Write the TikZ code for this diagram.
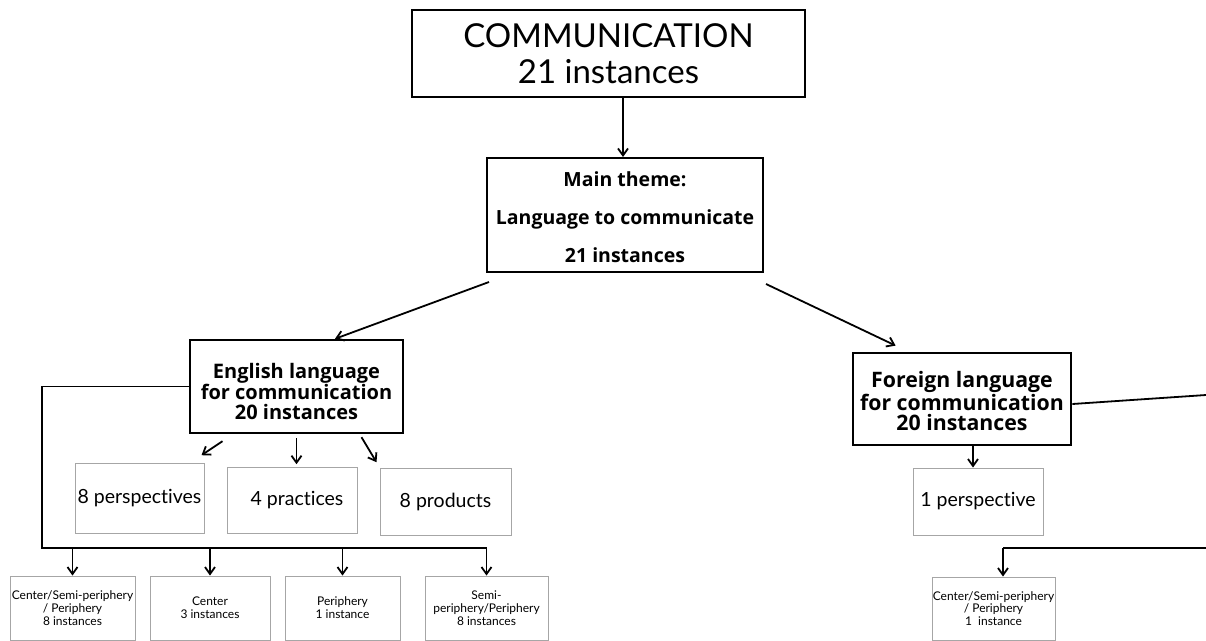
\documentclass[tikz,border=0pt]{standalone}
\usepackage{fontspec}
\setmainfont{Lato}[Ligatures=NoCommon]
\newfontfamily\boldfam{Open Sans}
\usetikzlibrary{arrows.meta}
\tikzset{
  thickbox/.style={draw, line width=2pt, align=center, inner sep=0pt},
  thinbox/.style={draw=gray!70, line width=0.9pt, align=center, inner sep=0pt},
  link/.style={line width=1.8pt},
  arr/.style={link, -{Straight Barb[length=7pt,width=10pt,line width=1.8pt]}},
  bigtext/.style={font=\fontsize{33}{36}\selectfont},
  themetext/.style={font=\boldfam\bfseries\fontsize{19.5}{38}\selectfont},
  langtext/.style={font=\boldfam\bfseries\fontsize{20}{20}\selectfont},
  rowtext/.style={font=\fontsize{19.5}{20}\selectfont},
  smalltext/.style={font=\fontsize{12}{12.8}\selectfont}
}
\begin{document}
\begin{tikzpicture}[x=1pt,y=-1pt]
                \useasboundingbox (0,0) rectangle (1206,640);

                \node[thickbox, bigtext, minimum width=393, minimum height=87] (comm) at (608.5,53.5)
                    {COMMUNICATION\\21 instances};
                \node[thickbox, themetext, minimum width=276, minimum height=114] (theme) at (625,215)
                    {\rule{0pt}{20pt}Main theme:\\Language to communicate\\21 instances};

                \node[thickbox, langtext, line width=2.4pt, minimum width=213, minimum height=93] (eng) at (296.5,386.5)
                    {\rule{0pt}{26pt}English language\\for communication\\20 instances};
                \node[thickbox, langtext, font={\boldfam\bfseries\fontsize{21.3}{20}\selectfont}, line width=2.8pt, minimum width=218, minimum height=92] (for) at (962,399)
                    {\rule{0pt}{20pt}Foreign language\\for communication\\20 instances};

                \node[thinbox, rowtext, minimum width=129, minimum height=70] (persp) at (139.5,498)
                    {8 perspectives};
                \node[thinbox, rowtext, minimum width=130, minimum height=66] (pract) at (292,500)
                    {\ \ 4 practices};
                \node[thinbox, rowtext, minimum width=131, minimum height=67] (prod) at (445.5,501.5)
                    {8 products};
                \node[thinbox, rowtext, minimum width=130, minimum height=67] (onepersp) at (978,501.5)
                    {1 perspective};

                \node[thinbox, smalltext, minimum width=125, minimum height=64] (csp) at (72.5,608)
                    {Center/Semi-periphery\\/ Periphery\\8 instances};
                \node[thinbox, smalltext, minimum width=120, minimum height=64] (cen) at (210,608)
                    {Center\\3 instances};
                \node[thinbox, smalltext, minimum width=115, minimum height=64] (per) at (342.5,608)
                    {Periphery\\1 instance};
                \node[thinbox, smalltext, minimum width=123, minimum height=64] (sp) at (486.5,608)
                    {Semi-\\periphery/Periphery\\8 instances};
                \node[thinbox, smalltext, minimum width=123, minimum height=63] (cspr) at (993.5,608.5)
                    {Center/Semi-periphery\\/ Periphery\\1\ \ instance};

                \coordinate (engbar) at (42,548);
                \coordinate (rightin) at (1206,395);
                \coordinate (rightbar) at (1206,548);

                \draw[arr] (comm.south -| 623,0) -- (theme.north -| 623,0);
                \draw[arr] ([shift={(3,9)}]theme.south west) -- ([shift={(38.5,0)}]eng.north);
                \draw[arr] ([shift={(2,11)}]theme.south east) -- ([shift={(44,-6)}]for.north west);

                \draw[arr] ([shift={(-74,7)}]eng.south) -- ([shift={(-95,21)}]eng.south);
                \draw[arr] ([shift={(0,4)}]eng.south) -- ([shift={(0,30)}]eng.south);
                \draw[arr] ([shift={(65,3)}]eng.south) -- ([shift={(80,28)}]eng.south);

                \draw[link] (eng.west) -- (eng.west -| engbar) -- (engbar) -- (engbar -| sp.north);
                \foreach \b in {csp, cen, per, sp}
                    \draw[arr] (engbar -| \b.north) -- (\b.north);

                \draw[link] ([yshift=-5]for.east) -- (rightin);
                \draw[arr] (for.south -| 973,0) -- (onepersp.north -| 973,0);
                \draw[link] (rightbar) -- (rightbar -| 1003,0);
                \draw[arr] (rightbar -| 1003,0) -- (cspr.north -| 1003,0);
            \end{tikzpicture}
\end{document}
